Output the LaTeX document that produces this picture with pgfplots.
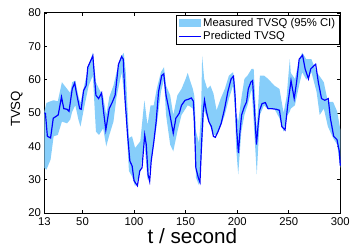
\documentclass[border=0pt]{standalone}
\usepackage{pgfplots}
\usepackage{pgfplotstable}
\pgfplotsset{compat=1.18}
\usepgfplotslibrary{fillbetween}
\usepackage{fontspec}
\setmainfont{Liberation Sans}
\definecolor{bandblue}{RGB}{135,206,250}
\pgfplotstableread{
t lo hi
13 33.5 50.5
15 33 53
19 36 53.5
22 43 53.8
26 43.4 53.5
30 47.4 59.2
35 46.9 57.2
38 48 56
40 50.4 59.2
43 52.3 59.7
46 48 55
48 45.9 53
52 52.3 58.7
56 58.2 64.1
60 61.2 68.1
63 44.4 59.2
66 43.4 57.2
70 45.4 55
73 40 49.4
76 43.4 54.8
80 47.4 58.2
83 54.8 62.2
88 62.2 67.1
90 56.3 68
92 49.4 62
95 32.6 42.5
98 31 43
101 28 39.5
106 32.6 41.5
110 41.5 53.8
113 30 46.4
116 34.6 52.3
119 40.5 52.3
122 46.4 57.2
126 56.3 62.2
129 60 63.7
131 49.4 58.2
135 40.5 55.3
138 38.5 49.4
142 44.4 55.3
146 49.4 57.2
150 51.3 60.2
152 52.3 62
154 52 60
157 51.3 57.2
158.5 45 55
160 30.6 44.5
163 28.3 41
165 35 50
166 39.5 67.1
168 50.8 60.2
171 48.4 57.2
174 45.9 58.2
177 43.4 55.8
180 43.4 50.8
184 45.9 54.3
188 49.4 57.2
192 54.3 61.2
196 58.2 62.2
198 50 58
199 39.5 50
201 31.6 47.4
204 44.4 54.3
207 49.4 60.2
210 52.3 61.2
214 57.2 63.2
216 47.4 63.2
219 31.6 45
222 49.4 61.2
226 52.3 61.2
230 51 60.2
236 51.3 58.2
241 48.4 57.2
245 44.4 50
248 49 55
251 50.4 66.1
252 51.3 62
256 52.3 60.2
260 58.2 65.6
263 62.2 68.1
267 60 66.1
272 62.2 66.1
277 56.3 62.2
280 49.4 61
284 51.3 59.2
288 45.9 53.3
293 42.5 53.3
297 40.5 50.4
300 33.6 45
}\band
\pgfplotstableread{
t v
13 50
14 49.9
15.9 43.0
19 42.5
21.6 48.4
26.4 49.4
29.6 54.8
31.8 51.3
35 51.1
36.9 50.5
40 57.2
42.4 59.0
43.9 56.3
47.2 51.3
48.7 51.1
51 56.7
53.5 58.2
55.1 63.7
60 67.1
63 55.3
65.6 54.3
68.5 56.0
70.4 50.4
72.6 44.9
75.9 51.3
79 53.3
81.6 55.3
84.8 64.5
87.9 66.9
89.5 66.1
91.2 54.3
93.7 43.4
95.9 35.6
98.1 34.1
100 29.7
103.2 28.2
105.5 32.6
107.7 33.6
110.3 43.4
111.8 40.5
113.5 31.6
115.1 29.5
116.6 35.6
119.2 41.5
121.4 47.4
123.7 56.3
126.8 61.2
128.8 61.7
131 55.3
134.2 50.4
138 43.9
140.5 48.4
143.8 49.9
146 52.3
149.5 53.8
152.7 54.1
155.5 54.5
157.5 53.5
158.5 47.4
159.9 33.6
162.3 30.6
163.9 29.2
165.4 40.5
167 50.4
168.3 53.8
170.2 50.4
172.5 47.4
175 45.9
176.9 43.0
178.8 42.7
181.4 44.4
184.5 46.9
187.8 51.3
190.9 56.3
194.1 60.2
196.4 61.0
197.9 55.3
199.6 44.4
201.2 38.0
202.7 44.4
204.3 49.4
206.9 51.8
209.1 53.3
210.8 57.2
213.2 59.2
214.9 59.7
216.5 52.3
218.7 40.5
220.3 46.4
221.8 50.8
224.1 52.8
227.3 53.1
229.9 51.3
233 51.3
237.8 51.1
241 50.8
243.3 45.9
246.4 44.9
249 52.3
252.2 59.7
255.3 54.3
257.6 59.2
260.1 66.1
263.4 67.3
265.9 63.2
269.1 60.2
271.3 63.2
276.1 64.6
278.7 59.2
281.8 54.3
285 53.8
288.3 54.3
290.4 48.4
293.6 43.0
296.8 42.0
299 38.5
300 34.2
}\pred
\begin{document}
\begin{tikzpicture}
\path (-45bp,-36bp) rectangle (308bp,216bp);
\begin{axis}[
  at={(0,0)}, anchor=south west,
  scale only axis,
  width=300bp, height=203bp,
  xmin=13, xmax=300, ymin=20, ymax=80,
  xtick={13,50,100,150,200,250,300},
  ytick={20,30,40,50,60,70,80},
  tick align=inside,
  major tick length=3bp,
  axis line style={line width=0.8bp},
  every tick/.style={black, line width=0.6bp},
  /pgf/number format/assume math mode=true,
  tick label style={font=\fontsize{11.5}{13}\selectfont},
  xticklabel style={yshift=-1bp},
  xlabel={t / second},
  xlabel style={at={(axis description cs:0.5,0)}, anchor=base, yshift=-31bp, font=\fontsize{21}{24}\selectfont},
  legend style={at={(0.997,0.99)}, anchor=north east, draw=black, line width=0.7bp,
    font=\fontsize{11.5}{13}\selectfont, inner xsep=2bp, inner ysep=1bp},
  legend cell align=left,
  clip=false,
]
\addplot[name path=lo, draw=none, forget plot] table[x=t, y=lo] {\band};
\addplot[name path=hi, draw=none, forget plot] table[x=t, y=hi] {\band};
\addplot[fill=bandblue, draw=none, area legend,
  legend image code/.code={\fill[bandblue] (0bp,-4.5bp) rectangle (22bp,4.5bp);}]
  fill between[of=lo and hi];
\addlegendentry{Measured TVSQ (95\% CI)}
\addplot[blue, line width=1.2bp,
  legend image code/.code={\draw[blue, line width=1bp] (0bp,0bp) -- (22bp,0bp);}]
  table[x=t, y=v] {\pred};
\addlegendentry{Predicted TVSQ}
\node[rotate=90, anchor=center, inner sep=0pt, font=\fontsize{13.5}{15}\selectfont]
  at (axis description cs:-0.093,0.52) {TVSQ};
\end{axis}
\end{tikzpicture}
\end{document}
